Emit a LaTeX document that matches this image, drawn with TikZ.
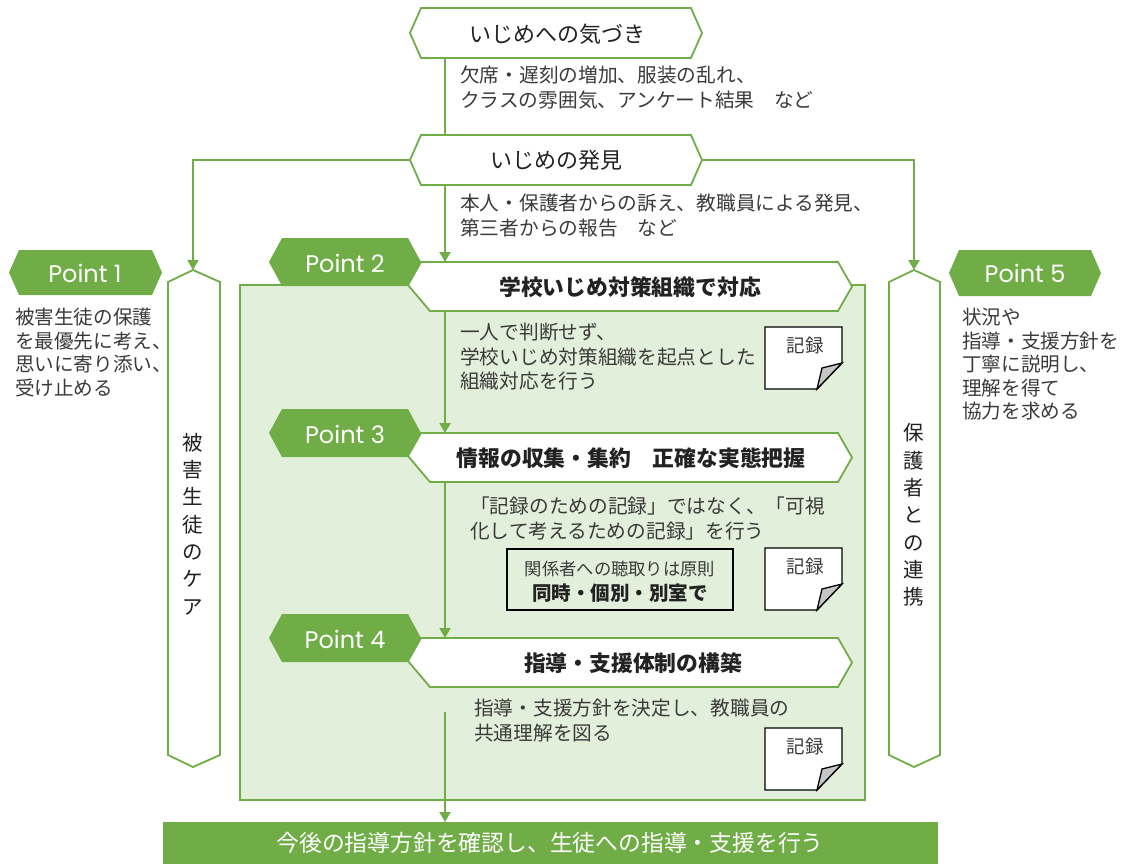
\documentclass[tikz,border=0pt]{standalone}
\usepackage{fontspec}
\setmainfont{Noto Sans CJK JP}
\newfontfamily\pointfont{Poppins}
\usetikzlibrary{arrows.meta}
\definecolor{gr}{HTML}{70AD47}
\definecolor{lgr}{HTML}{E2EFDA}
\definecolor{txt}{HTML}{3A3A3A}
\definecolor{dtxt}{HTML}{222222}
\newcommand{\hexshape}[6]{\path[#1] (#2,#4) -- ({#2+#6},{#4-#5}) -- ({#3-#6},{#4-#5}) -- (#3,#4) -- ({#3-#6},{#4+#5}) -- ({#2+#6},{#4+#5}) -- cycle;}
\newcommand{\whitebanner}[1]{\path[hexw] (421,#1) -- (838,#1) -- (852,{#1+24.5}) -- (838,{#1+49}) -- (430,{#1+49}) -- (408,{#1+23}) -- cycle;}
\newcommand{\docicon}[3]{%
  \path[docline, fill=white] (#2,#3) -- ({#2+77},#3) -- ({#2+77},{#3+36}) -- ({#2+52},{#3+62}) -- (#2,{#3+62}) -- cycle;
  \path[docline, fill=gray!45] ({#2+77},{#3+36}) .. controls ({#2+67},{#3+38}) .. ({#2+57},{#3+41}) .. controls ({#2+55},{#3+52}) .. ({#2+52},{#3+62}) -- cycle;
  \node[kiroku] (#1) at ({#2+40},{#3+18}) {記録};}
\begin{document}
\begin{tikzpicture}[x=1pt,y=-1pt,
  hexw/.style={fill=white, draw=gr, line width=1.8pt, line join=miter},
  gpt/.style={fill=gr},
  colbox/.style={fill=white, draw=gr, line width=1.8pt, line join=miter},
  docline/.style={draw=black, line width=1.3pt, line join=miter},
  plain/.style={draw=gr, line width=2pt},
  conn/.style={draw=gr, line width=2pt, -{Triangle[width=11pt,length=10pt]}},
  body/.style={text=txt, font=\fontsize{19.7}{24.5}\selectfont, align=left, inner sep=0pt, anchor=north west},
  sidetext/.style={text=txt, font=\fontsize{19.6}{23.5}\selectfont, align=left, inner sep=0pt, anchor=north west},
  hextext/.style={text=dtxt, font=\fontsize{22}{22}\selectfont, inner sep=0pt},
  bantext/.style={text=dtxt, font=\fontsize{21.8}{21.8}\selectfont\bfseries, inner sep=0pt},
  pttext/.style={text=white, font=\pointfont\fontsize{24}{24}\selectfont, inner sep=0pt},
  vtext/.style={text=dtxt, font=\fontsize{20.5}{27.3}\selectfont, align=center, inner sep=0pt},
  kiroku/.style={text=txt, font=\fontsize{18.5}{18.5}\selectfont, inner sep=0pt}]
\useasboundingbox (0,0) rectangle (1128,863);

% big light-green box
\path[fill=lgr, draw=gr, line width=1.8pt] (240,285) rectangle (865,800);

% top hexagons
\hexshape{hexw}{410}{702}{33}{25}{11}
\node[hextext] (aware) at (557,34) {いじめへの気づき};
\hexshape{hexw}{410}{702}{160}{25}{11}
\node[hextext] (find) at (556,160) {いじめの発見};
\coordinate (awareb) at (445,58);
\coordinate (findt) at (445,135);
\coordinate (findb) at (445,185);
\coordinate (findl) at (410,160);
\coordinate (findr) at (702,160);

\node[body] (t1) at (460,66) {欠席・遅刻の増加、服装の乱れ、\\クラスの雰囲気、アンケート結果　など};
\node[body] (t2) at (460,194) {本人・保護者からの訴え、教職員による発見、\\第三者からの報告　など};

% side columns
\path[colbox] (168,282) -- (193,270) -- (220,282) -- (220,755) -- (193,767) -- (168,755) -- cycle;
\coordinate (ltop) at (193,270);
\node[vtext] (care) at (193,524) {被\\害\\生\\徒\\の\\ケ\\ア};
\path[colbox] (889,282) -- (914,270) -- (940,282) -- (940,755) -- (914,767) -- (889,755) -- cycle;
\coordinate (rtop) at (914,270);
\node[vtext] (parent) at (914,515) {保\\護\\者\\と\\の\\連\\携};

% Point 1 and 5
\hexshape{gpt}{9}{162}{272.5}{22.5}{10}
\node[pttext] (p1) at (85,273) {Point 1};
\node[sidetext] (p1t) at (15,308) {被害生徒の保護\\を最優先に考え、\\思いに寄り添い、\\受け止める};
\hexshape{gpt}{949}{1101}{273}{23}{10}
\node[pttext] (p5) at (1025,273) {Point 5};
\node[sidetext] (p5t) at (962,308) {状況や\\指導・支援方針を\\丁寧に説明し、\\理解を得て\\協力を求める};

% Point 2
\whitebanner{262}
\hexshape{gpt}{269}{421}{262}{24}{13}
\node[pttext] (p2) at (345,263) {Point 2};
\node[bantext] (s2) at (630,287) {学校いじめ対策組織で対応};
\coordinate (w2t) at (445,262);
\coordinate (w2b) at (445,311);
\node[body] (t3) at (460,323) {一人で判断せず、\\学校いじめ対策組織を起点とした\\組織対応を行う};
\docicon{rec1}{765}{327}

% Point 3
\whitebanner{433}
\hexshape{gpt}{269}{421}{433}{24}{13}
\node[pttext] (p3) at (345,434) {Point 3};
\node[bantext] (s3) at (631,458) {情報の収集・集約　正確な実態把握};
\coordinate (w3t) at (445,433);
\coordinate (w3b) at (445,482);
\node[body] (t4) at (470,497) {「記録のための記録」ではなく、「可視\\化して考えるための記録」を行う};
\node[draw=black, line width=1.4pt, minimum width=226pt, minimum height=61pt, inner sep=0pt] (hear) at (620,579.5) {};
\node[text=txt, font=\fontsize{17.3}{17.3}\selectfont, inner sep=0pt] (hear1) at (620,569) {関係者への聴取りは原則};
\node[text=dtxt, font=\fontsize{19.5}{19.5}\selectfont\bfseries, inner sep=0pt] (hear2) at (620,593) {同時・個別・別室で};
\docicon{rec2}{765}{548}

% Point 4
\whitebanner{638}
\hexshape{gpt}{269}{421}{638}{24}{13}
\node[pttext] (p4) at (345,639) {Point 4};
\node[bantext] (s4) at (633,663) {指導・支援体制の構築};
\coordinate (w4t) at (445,638);
\coordinate (w4c) at (445,712);
\node[body] (t5) at (474,699) {指導・支援方針を決定し、教職員の\\共通理解を図る};
\docicon{rec3}{765}{728}

% bottom bar
\path[fill=gr] (163,822) rectangle (938,870);
\node[text=white, font=\fontsize{22.8}{22.8}\selectfont, inner sep=0pt] (final) at (550,843) {今後の指導方針を確認し、生徒への指導・支援を行う};
\coordinate (bart) at (445,822);

% connectors
\draw[plain] (awareb) -- (findt);
\draw[conn] (findl) -| (ltop);
\draw[conn] (findr) -| (rtop);
\draw[conn] (findb) -- (w2t);
\draw[conn] (w2b) -- (w3t);
\draw[conn] (w3b) -- (w4t);
\draw[conn] (w4c) -- (bart);
\end{tikzpicture}
\end{document}
